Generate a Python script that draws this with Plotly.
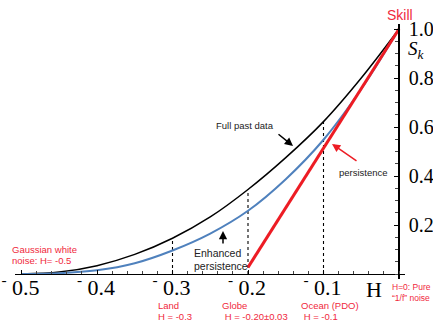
import numpy as np
import plotly.graph_objects as go

# ---- data ----
H_grid = [-0.5, -0.45, -0.4, -0.35, -0.3, -0.25, -0.2, -0.15, -0.1, -0.05, 0.0]
full_past = [0.0, 0.008, 0.034, 0.080, 0.146, 0.233, 0.345, 0.475, 0.622, 0.800, 1.0]
enhanced = [0.0, 0.003, 0.015, 0.044, 0.096, 0.165, 0.258, 0.387, 0.548, 0.755, 1.0]
persist_H = [-0.2, 0.0]
persist_S = [0.027, 1.0]
marker_H = [-0.3, -0.2, -0.1]
x_tickvals = [-0.5, -0.4, -0.3, -0.2, -0.1]
x_ticktext = ["<sup>-</sup> 0.5", "<sup>-</sup> 0.4", "<sup>-</sup> 0.3", "<sup>-</sup> 0.2", "<sup>-</sup> 0.1"]
y_tickvals = [0.2, 0.4, 0.6, 0.8, 1.0]

# pixel geometry helpers (plot area spans x 15..405, y 24..279)
L, R, T, B = 15, 405, 24, 279

def dx(px):
    return (px - 399) / 755.0

def dy(py):
    return (274 - py) / 245.0

def pxp(px):
    return (px - L) / float(R - L)

def pyp(py):
    return (B - py) / float(B - T)

RED = "#ed1c24"
LRED = "#f0283c"
BLUE = "#4f81bd"

fig = go.Figure()

# dotted verticals up to the full-past-data curve
for h in marker_H:
    top = float(np.interp(h, H_grid, full_past))
    fig.add_trace(go.Scatter(x=[h, h], y=[0, top], mode="lines",
                             line=dict(color="black", width=1.1, dash="dot"),
                             hoverinfo="skip", showlegend=False))

fig.add_trace(go.Scatter(x=H_grid, y=full_past, mode="lines",
                         line=dict(color="black", width=1.5, shape="spline", smoothing=1.0),
                         showlegend=False))
fig.add_trace(go.Scatter(x=H_grid, y=enhanced, mode="lines",
                         line=dict(color=BLUE, width=2, shape="spline", smoothing=1.0),
                         showlegend=False))
fig.add_trace(go.Scatter(x=persist_H, y=persist_S, mode="lines",
                         line=dict(color=RED, width=3),
                         showlegend=False))

ann = []
def txt(text, px, py, size=9.5, color="#222", xanchor="left", family="Liberation Sans"):
    ann.append(dict(x=pxp(px), y=pyp(py), xref="paper", yref="paper", text=text, showarrow=False,
                    xanchor=xanchor, yanchor="middle", align="left",
                    font=dict(family=family, size=size, color=color)))

def arrow(hx, hy, tx, ty, color="black"):
    ann.append(dict(x=pxp(hx), y=pyp(hy), xref="paper", yref="paper", ax=tx - hx, ay=ty - hy,
                    text="", showarrow=True, arrowhead=2, arrowsize=1.1,
                    arrowwidth=1.5, arrowcolor=color))

txt("Skill", 400, 15, size=14, color=LRED, xanchor="center")
txt("<i>S<sub>k</sub></i>", 406, 50, size=19, color="black", family="Liberation Serif")
txt("H", 374, 289, size=22, color="black", xanchor="center", family="Liberation Serif")

txt("Full past data", 214, 125)
arrow(293, 146, 277, 133)
txt("persistence", 337, 173)
arrow(332, 144, 358, 162, color=RED)
txt("Enhanced", 192, 253, size=10.5)
txt("persistence", 192, 265.5, size=10.5)
arrow(223, 231, 223, 245)

txt("Gaussian white", 10, 249, color=LRED)
txt("noise: H= -0.5", 10, 260, color=LRED)
txt("Land", 156, 305, color=LRED)
txt("H = -0.3", 156, 316, color=LRED)
txt("Globe", 220, 305, color=LRED)
txt(" H = -0.20±0.03", 220, 316, color=LRED)
txt("Ocean (PDO)", 299, 305, color=LRED)
txt(" H = -0.1", 299, 316, color=LRED)
txt("H=0: Pure", 390, 287, size=8.5, color=LRED)
txt("\u201c1/f\u201d noise", 390, 298, size=8.5, color=LRED)

fig.update_layout(
    width=433, height=322,
    margin=dict(l=L, r=433 - R, t=T, b=322 - B, pad=0, autoexpand=False),
    paper_bgcolor="white", plot_bgcolor="white",
    showlegend=False,
    annotations=ann,
    xaxis=dict(range=[dx(L), dx(R)], anchor="free", position=(B - 274) / float(B - T),
               automargin=False,
               showline=True, linecolor="black", linewidth=1.3,
               showgrid=False, zeroline=False,
               tickmode="array", tickvals=x_tickvals, ticktext=x_ticktext,
               ticks="inside", ticklen=4, tickcolor="black",
               minor=dict(dtick=0.02, tick0=0, ticks="inside", ticklen=3, tickcolor="#444", showgrid=False),
               tickfont=dict(family="Liberation Serif", size=22, color="black"),
               ticklabelshift=-1, ticklabelstandoff=-7),
    yaxis=dict(range=[dy(B), dy(T)], anchor="free", position=(399 - L) / float(R - L), side="right",
               automargin=False,
               showline=True, linecolor="black", linewidth=1.5,
               showgrid=False, zeroline=False,
               tickmode="array", tickvals=y_tickvals, tickformat=".1f",
               ticks="inside", ticklen=4, tickcolor="black",
               minor=dict(dtick=0.05, tick0=0, ticks="inside", ticklen=3, tickcolor="#444", showgrid=False),
               tickfont=dict(family="Liberation Serif", size=20, color="black"),
               ticklabelstandoff=5),
)

fig.write_html("out.html")
